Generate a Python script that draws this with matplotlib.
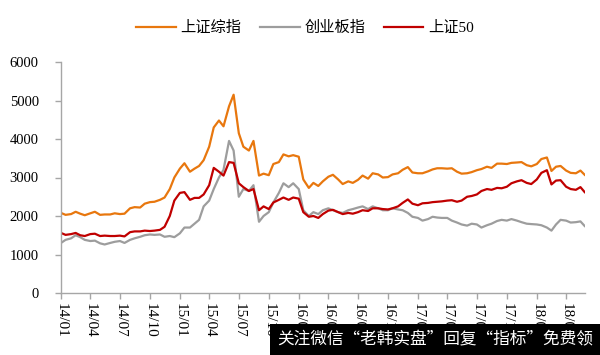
import numpy as np
import pandas as pd
import matplotlib
matplotlib.use('Agg')
import matplotlib.pyplot as plt
import matplotlib.dates as mdates
from matplotlib.patches import Rectangle

plt.rcParams['font.family'] = ['Liberation Serif', 'Noto Sans CJK SC', 'DejaVu Sans']

# semi-monthly points, 2014-01 .. 2018-05
dates = list(pd.date_range('2014-01-01', '2018-05-15', freq='SMS')) + [pd.Timestamp('2018-05-28')]

# 上证综指
sh_comp = [
    2080, 2030, 2050, 2110, 2060, 2020, 2070, 2110, 2030, 2040, 2040, 2070,
    2050, 2060, 2200, 2230, 2220, 2320, 2360, 2370, 2420, 2480, 2700, 3000,
    3230, 3370, 3150, 3230, 3300, 3450, 3800, 4300, 4480, 4330, 4850, 5150,
    4150, 3800, 3700, 3950, 3050, 3100, 3060, 3350, 3400, 3600, 3550, 3580,
    3540, 2950, 2730, 2860, 2780, 2900, 3020, 3070, 2950, 2830, 2900, 2860,
    2940, 3050, 2970, 3110, 3080, 3000, 3010, 3080, 3110, 3200, 3270, 3130,
    3110, 3110, 3160, 3210, 3240, 3240, 3230, 3240, 3150, 3100, 3110, 3140,
    3190, 3220, 3280, 3250, 3360, 3360, 3350, 3380, 3390, 3400, 3320, 3290,
    3350, 3480, 3520, 3170, 3280, 3300, 3180, 3120, 3110, 3180, 3070,
]
# 创业板指
chinext = [
    1300, 1380, 1420, 1500, 1450, 1380, 1350, 1360, 1290, 1260, 1300, 1330,
    1350, 1300, 1380, 1420, 1460, 1500, 1520, 1510, 1520, 1460, 1480, 1450,
    1550, 1700, 1700, 1800, 1900, 2250, 2400, 2700, 3000, 3200, 3950, 3700,
    2500, 2700, 2650, 2800, 1850, 2000, 2100, 2350, 2600, 2850, 2750, 2850,
    2700, 2150, 2000, 2100, 2050, 2150, 2200, 2150, 2100, 2080, 2150, 2180,
    2220, 2250, 2180, 2250, 2200, 2150, 2150, 2200, 2170, 2150, 2080, 1980,
    1950, 1880, 1920, 1980, 1960, 1950, 1950, 1880, 1830, 1780, 1750, 1800,
    1780, 1700, 1760, 1800, 1870, 1900, 1880, 1920, 1880, 1840, 1800, 1790,
    1780, 1760, 1700, 1620, 1780, 1900, 1880, 1830, 1840, 1860, 1740,
]
# 上证50
sse50 = [
    1560, 1510, 1530, 1560, 1500, 1480, 1530, 1540, 1480, 1490, 1480, 1480,
    1490, 1470, 1580, 1600, 1600, 1620, 1610, 1620, 1640, 1720, 2000, 2400,
    2600, 2620, 2420, 2470, 2470, 2560, 2800, 3250, 3150, 3050, 3400, 3380,
    2850, 2750, 2650, 2700, 2150, 2250, 2180, 2350, 2420, 2480, 2420, 2480,
    2450, 2100, 1980, 2000, 1950, 2050, 2140, 2160, 2100, 2050, 2080, 2060,
    2100, 2150, 2130, 2200, 2200, 2180, 2170, 2200, 2250, 2340, 2430, 2320,
    2280, 2330, 2340, 2360, 2370, 2380, 2400, 2410, 2370, 2400, 2500, 2520,
    2560, 2650, 2700, 2680, 2730, 2720, 2760, 2850, 2900, 2930, 2860, 2830,
    2950, 3120, 3190, 2820, 2920, 2930, 2760, 2700, 2680, 2750, 2620,
]

series_names = ['上证综指', '创业板指', '上证50']
series_colors = ['#E8770E', '#9d9d9d', '#C00000']

tick_dates = pd.date_range('2014-01-01', '2018-04-01', freq='QS')
tick_labels = [d.strftime('%y/%m') for d in tick_dates]

fig = plt.figure(figsize=(6, 3.55), dpi=100)
ax = fig.add_axes([61 / 600, 1 - 293 / 355, (585 - 61) / 600, (293 - 62) / 355])

for vals, name, col in zip([sh_comp, chinext, sse50], series_names, series_colors):
    ax.plot(dates, vals, color=col, lw=1.6, label=name)

ax.set_ylim(0, 6000)
ax.set_yticks(np.arange(0, 6001, 1000))
ax.set_xlim(pd.Timestamp('2014-01-01'), pd.Timestamp('2018-05-29'))
ax.set_xticks(tick_dates)
ax.set_xticklabels(tick_labels, rotation=270, fontsize=11)
for lab in ax.get_yticklabels():
    lab.set_fontsize(10.5)

for s in ['top', 'right']:
    ax.spines[s].set_visible(False)
for s in ['left', 'bottom']:
    ax.spines[s].set_color('#a6a6a6')
    ax.spines[s].set_linewidth(1)
ax.tick_params(axis='both', colors='#a6a6a6', labelcolor='black', length=4, width=1, direction='out')
ax.tick_params(axis='y', pad=12)
ax.tick_params(axis='x', pad=3)

fig.legend(loc='center', bbox_to_anchor=(305 / 600, 1 - 28 / 355), ncol=3, frameon=False,
           prop={'family': ['Liberation Serif', 'Noto Sans CJK SC'], 'size': 11},
           handlelength=2.6, handletextpad=0.3, columnspacing=1.2)

# watermark box at the bottom
fig.patches.append(Rectangle((270 / 600, 0), 330 / 600, 31 / 355, transform=fig.transFigure,
                             facecolor='black', edgecolor='none', zorder=5))
fig.text(435 / 600, 15 / 355, '关注微信“老韩实盘”回复“指标”免费领', color='white',
         fontsize=12, family=['Noto Sans CJK SC'], ha='center', va='center', zorder=6)

fig.savefig('out.png', dpi=100)
